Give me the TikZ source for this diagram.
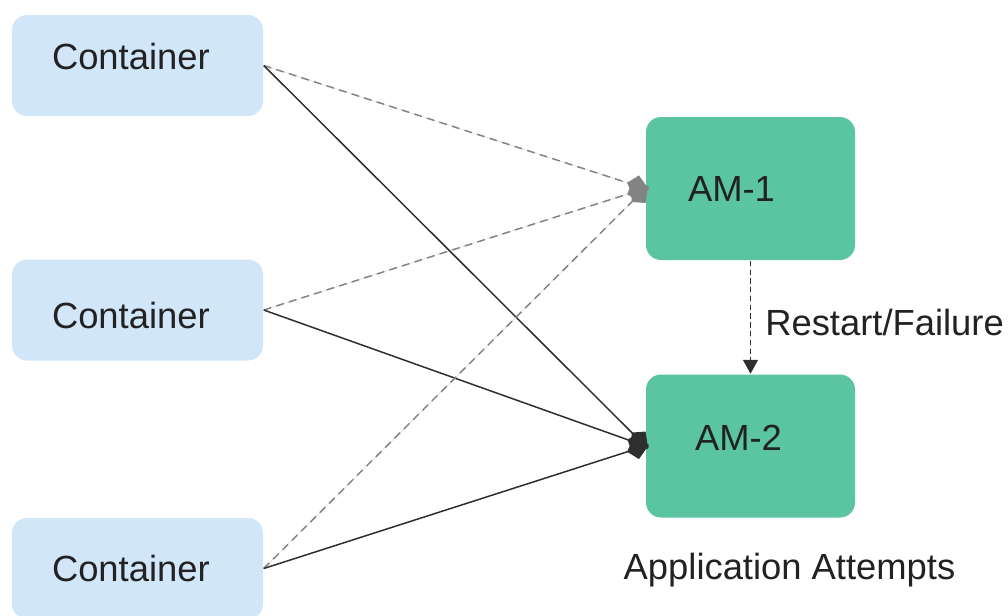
\documentclass[tikz,border=0pt]{standalone}
\usepackage{fontspec}
\setmainfont{Liberation Sans}
\usetikzlibrary{arrows.meta, positioning}
\definecolor{cblue}{HTML}{D1E6F9}
\definecolor{cgreen}{HTML}{5AC5A0}
\definecolor{cgrey}{HTML}{838383}
\definecolor{cdark}{HTML}{2E2E2E}
\definecolor{ctext}{HTML}{222222}
\tikzset{
  every picture/.style={font=\fontsize{20.7pt}{24pt}\selectfont, text=ctext, line width=0.85pt},
  box/.style={fill=#1, rounded corners=0.3cm, inner sep=0pt, text height=14.9pt, text depth=0pt, align=left},
  cbox/.style={box=cblue, minimum height=2.02cm, text width=3.42cm, inner xsep=0.8cm},
  ambox/.style={box=cgreen, minimum height=2.86cm, text width=2.5cm, inner xsep=0.84cm},
  tip/.style={-{Kite[length=0.46cm, width=0.42cm, inset=0.18cm]}, shorten >=-0.08cm},
  retry/.style={tip, draw=cgrey, fill=cgrey, dash pattern=on 4.5pt off 3pt},
  hit/.style={tip, draw=cdark, fill=cdark},
  restart/.style={-{Triangle[length=0.28cm, width=0.3cm]}, draw=cdark, fill=cdark, dash pattern=on 3pt off 2pt},
  label/.style={inner sep=0pt, text height=14.9pt, text depth=0pt},
}
\begin{document}
\begin{tikzpicture}
  \useasboundingbox (0,0) rectangle (20.16,-12.3);
  % containers on the left, text sits a bit off centre in each box
  \foreach \n/\y/\h/\d in {1/-1.31/14.9pt/10.8pt, 2/-6.2/20.6pt/0pt, 3/-11.37/14.9pt/0pt} {
    \node[cbox, text height=\h, text depth=\d] (c\n) at (2.75,\y) {Container};
  }
  % application masters
  \node[ambox] (am1) at (15.01,-3.77) {AM-1};
  \node[ambox, inner xsep=0.98cm, text width=2.22cm, text depth=10.2pt] (am2) at (15.01,-8.92) {AM-2};
  \foreach \n in {1,2,3} {
    \draw[retry] (c\n.east) -- (am1.west);
    \draw[hit] (c\n.east) -- (am2.west);
  }
  \draw[restart] (am1.south) -- node[label, pos=0.55, anchor=west, xshift=0.28cm] (why) {Restart/Failure} (am2.north);
  \node[label] (att) at (15.79,-11.32) {Application Attempts};
\end{tikzpicture}
\end{document}
